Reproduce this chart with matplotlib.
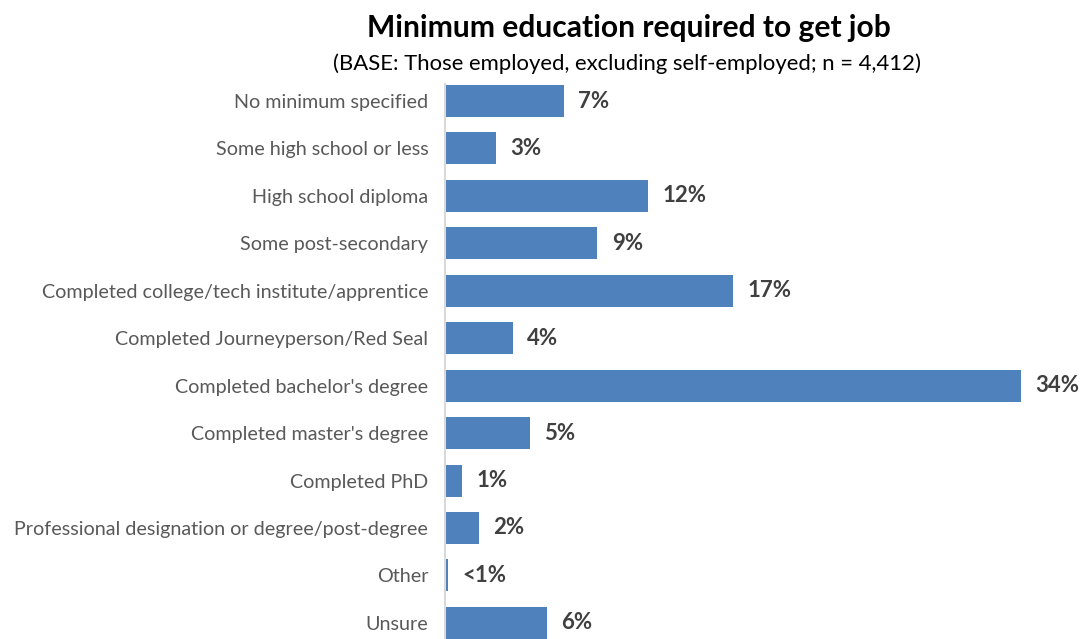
import numpy as np
import matplotlib
matplotlib.use('Agg')
import matplotlib.pyplot as plt

plt.rcParams['font.family'] = ['Lato', 'DejaVu Sans']

# Datos
categorias = ['No minimum specified', 'Some high school or less', 'High school diploma',
              'Some post-secondary', 'Completed college/tech institute/apprentice',
              'Completed Journeyperson/Red Seal', "Completed bachelor's degree",
              "Completed master's degree", 'Completed PhD',
              'Professional designation or degree/post-degree', 'Other', 'Unsure']
valores = [7, 3, 12, 9, 17, 4, 34, 5, 1, 2, 0.2, 6]
etiquetas = ['7%', '3%', '12%', '9%', '17%', '4%', '34%', '5%', '1%', '2%', '<1%', '6%']

W, H = 1081, 639
fig = plt.figure(figsize=(W / 100, H / 100), dpi=100)
# ejes en pixeles: x 445..1021, y 77..639
ax = fig.add_axes([445 / W, 0, (1021 - 445) / W, (639 - 77) / H])

y = np.arange(len(categorias))
ax.barh(y, valores, height=0.675, color='#4F81BD')
ax.set_xlim(0, 34)
ax.set_ylim(11.34, -0.506)

for yi, v, t in zip(y, valores, etiquetas):
    ax.text(v + 0.85, yi, t, va='center', ha='left', fontsize=16,
            fontweight='bold', color='#404040')

ax.set_yticks(y)
ax.set_yticklabels(categorias, fontsize=14.2, color='#595959')
ax.tick_params(axis='y', length=0, pad=12)
ax.set_xticks([])
for s in ['top', 'right', 'bottom']:
    ax.spines[s].set_visible(False)
ax.spines['left'].set_color('#D9D9D9')
ax.spines['left'].set_linewidth(1.5)
ax.spines['left'].set_bounds(11.34, -0.35)

fig.text(629 / W, 1 - 28 / H, 'Minimum education required to get job', ha='center',
         va='center', fontsize=21.6, fontweight='bold', color='black')
fig.text(627 / W, 1 - 64 / H, '(BASE: Those employed, excluding self-employed; n = 4,412)',
         ha='center', va='center', fontsize=15.9, color='black')

fig.savefig('out.png', dpi=100)
